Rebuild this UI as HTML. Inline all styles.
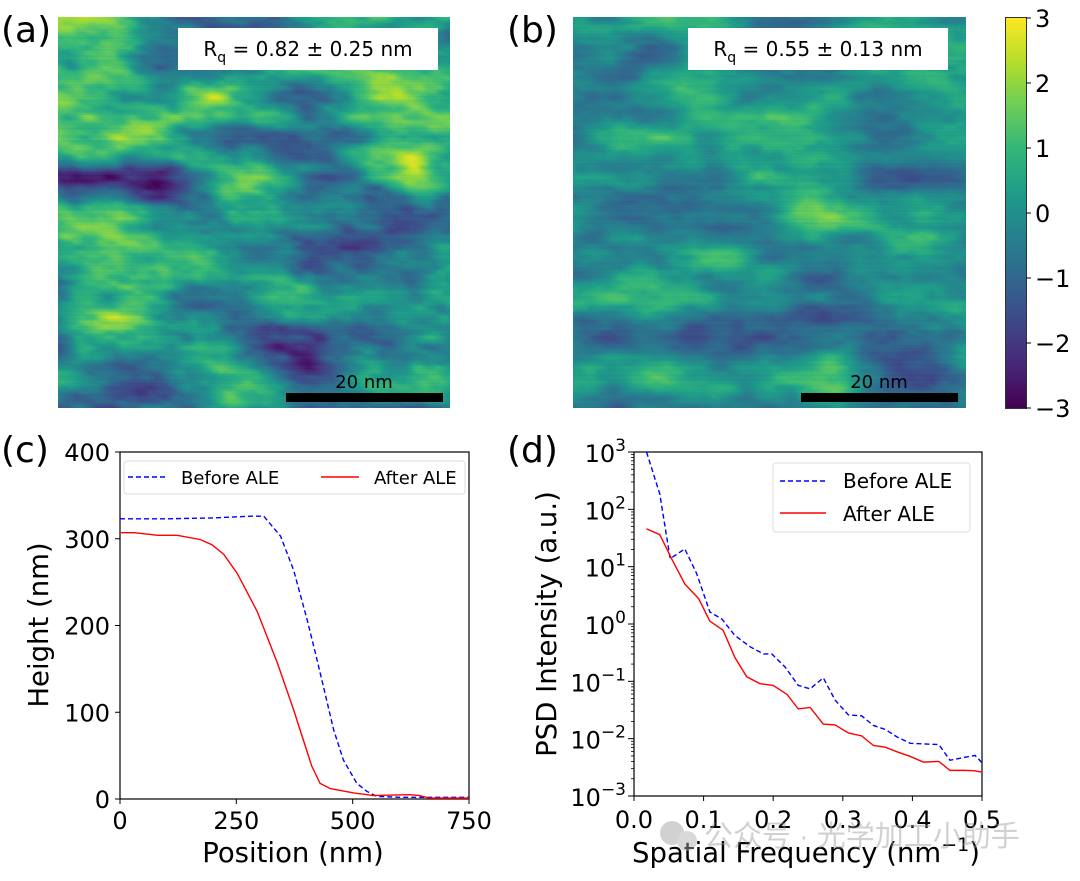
<!DOCTYPE html>
<html><head><meta charset="utf-8">
<style>
body{margin:0;background:#fff;width:1080px;height:881px;overflow:hidden;position:relative;font-family:"DejaVu Sans","Liberation Sans",sans-serif;}
.abs{position:absolute}
canvas{position:absolute}
</style></head>
<body>
<div class="abs" style="left:1px;top:10px;font-size:36px;">(a)</div>
<div class="abs" style="left:507px;top:10px;font-size:36px;">(b)</div>
<canvas id="afmA" width="392" height="391" style="left:58px;top:17px"></canvas>
<canvas id="afmB" width="393" height="391" style="left:573px;top:17px"></canvas>
<canvas id="cbar" width="20" height="390" style="left:1006px;top:18px;outline:1px solid #333"></canvas>
<svg class="abs" style="left:0;top:0" width="1080" height="881" id="svg">
 <g><rect x="178" y="28" width="260" height="42" fill="#fff"/>
 <text x="308" y="56" font-size="20" text-anchor="middle" font-family="DejaVu Sans, sans-serif">R<tspan font-size="14" dy="6">q</tspan><tspan dy="-6"> = 0.82 ± 0.25 nm</tspan></text></g>
 <g><rect x="688" y="28" width="260" height="42" fill="#fff"/>
 <text x="818" y="56" font-size="20" text-anchor="middle" font-family="DejaVu Sans, sans-serif">R<tspan font-size="14" dy="6">q</tspan><tspan dy="-6"> = 0.55 ± 0.13 nm</tspan></text></g>
 <g><rect x="286" y="393" width="157" height="9" fill="#000"/><text x="364" y="388" font-size="18" text-anchor="middle">20 nm</text></g>
 <g><rect x="801" y="393" width="157" height="9" fill="#000"/><text x="879" y="388" font-size="18" text-anchor="middle">20 nm</text></g>
 <g id="cbticks"></g>
 <g id="chartC"></g>
 <g id="chartD"></g>
 <g opacity="0.45">
  <circle cx="672" cy="833" r="12" fill="#999"/><circle cx="687" cy="841" r="10" fill="#aaa"/>
  <text x="704" y="846" font-size="29" fill="#999" font-family="Liberation Sans, Noto Sans CJK SC, sans-serif">公众号 · 光学加工小助手</text>
 </g>
</svg>
<script>
// ---------- chart data ----------
const posBefore=[0,100,200,280,309,345,373,402,420,437,459,480,509,530,552,600,750];
const hBefore=[323,323,324,326,326,303,264,207,168,130,80,45,18,9,3,2,2];
const posAfter=[2,31,81,123,173,198,223,252,295,338,373,394,412,430,452,502,545,623,644,666,750];
const hAfter=[307,307,304,304,299,293,282,260,216,157,103,68,38,18,12,7,4,5,4,1,1];
const cXTicks=[0,250,500,750];
const cYTicks=[0,100,200,300,400];
const freqBefore=[0.018,0.037,0.052,0.073,0.09,0.109,0.126,0.145,0.167,0.186,0.198,0.217,0.236,0.253,0.272,0.289,0.308,0.327,0.344,0.361,0.378,0.397,0.416,0.438,0.454,0.474,0.49,0.5];
const psdBefore=[1000,186,13.8,20.4,7.6,1.62,1.23,0.63,0.40,0.30,0.30,0.178,0.085,0.074,0.115,0.047,0.026,0.025,0.017,0.0145,0.0107,0.0083,0.0081,0.0079,0.0042,0.0047,0.0051,0.0038];
const freqAfter=[0.018,0.037,0.054,0.073,0.093,0.109,0.128,0.145,0.162,0.181,0.2,0.22,0.236,0.253,0.272,0.289,0.308,0.327,0.344,0.361,0.378,0.397,0.416,0.438,0.454,0.474,0.49,0.5];
const psdAfter=[45.7,36.3,13.8,5.0,2.75,1.12,0.78,0.26,0.12,0.091,0.085,0.059,0.033,0.035,0.018,0.0174,0.0126,0.0112,0.0076,0.0071,0.0059,0.0049,0.0039,0.0040,0.0028,0.0028,0.00275,0.0026];
const dXTicks=[0,0.1,0.2,0.3,0.4,0.5];
const dYExps=[-3,-2,-1,0,1,2,3];
const cbTicks=[3,2,1,0,-1,-2,-3];

const NS="http://www.w3.org/2000/svg";
function el(p,t,a,txt){const e=document.createElementNS(NS,t);for(const k in a)e.setAttribute(k,a[k]);if(txt!=null)e.textContent=txt;p.appendChild(e);return e;}

// ---------- chart C ----------
(function(){
 const g=document.getElementById('chartC');
 const L=120,R=469,T=452,B=799;
 const xs=v=>L+(v-0)/750*(R-L), ys=v=>B-v/400*(B-T);
 el(g,'rect',{x:L,y:T,width:R-L,height:B-T,fill:'none',stroke:'#000','stroke-width':1.2});
 cXTicks.forEach(v=>{const t=el(g,'line',{x1:xs(v),x2:xs(v),y1:B,y2:B+5,stroke:'#000'});
  const l=el(g,'text',{x:xs(v),y:B+30,'font-size':24,'text-anchor':'middle'},String(v));});
 cYTicks.forEach(v=>{el(g,'line',{x1:L-5,x2:L,y1:ys(v),y2:ys(v),stroke:'#000'});
  const l=el(g,'text',{x:L-10,y:ys(v)+9,'font-size':24,'text-anchor':'end'},String(v));});
 const xt=el(g,'text',{x:293,y:862,'font-size':27.5,'text-anchor':'middle'},'Position (nm)');
 const yt=el(g,'text',{x:0,y:0,'font-size':27.5,'text-anchor':'middle',transform:'translate(48,625) rotate(-90)'},'Height (nm)');
 const lb=el(g,'text',{x:1,y:462,'font-size':36},'(c)');
 const pb=el(g,'polyline',{points:posBefore.map((p,i)=>xs(p)+','+ys(hBefore[i])).join(' '),fill:'none',stroke:'#0000ff','stroke-width':1.4,'stroke-dasharray':'5,3'});
 
 const pa=el(g,'polyline',{points:posAfter.map((p,i)=>xs(p)+','+ys(hAfter[i])).join(' '),fill:'none',stroke:'#ff0000','stroke-width':1.4});
 
 const lg=el(g,'g',{});
 el(lg,'rect',{x:124,y:461,width:341,height:33,rx:3,fill:'#fff',stroke:'#ddd'});
 el(lg,'line',{x1:128,x2:166,y1:477,y2:477,stroke:'#0000ff','stroke-width':1.4,'stroke-dasharray':'5,3'});
 el(lg,'text',{x:181,y:484,'font-size':18},'Before ALE');
 el(lg,'line',{x1:321,x2:359,y1:477,y2:477,stroke:'#ff0000','stroke-width':1.4});
 el(lg,'text',{x:374,y:484,'font-size':18},'After ALE');
})();

// ---------- chart D ----------
(function(){
 const g=document.getElementById('chartD');
 const L=634,R=982,T=452,B=796;
 const xs=v=>L+v/0.5*(R-L), ys=v=>B-(Math.log10(v)+3)/6*(B-T);
 el(g,'rect',{x:L,y:T,width:R-L,height:B-T,fill:'none',stroke:'#000','stroke-width':1.2});
 dXTicks.forEach(v=>{el(g,'line',{x1:xs(v),x2:xs(v),y1:B,y2:B+5,stroke:'#000'});
  const l=el(g,'text',{x:xs(v),y:B+32,'font-size':24,'text-anchor':'middle'},v.toFixed(1));});
 dYExps.forEach(e=>{const y=ys(Math.pow(10,e));el(g,'line',{x1:L-6,x2:L,y1:y,y2:y,stroke:'#000'});
  if(e<3)for(let m=2;m<10;m++){const ym=ys(m*Math.pow(10,e));el(g,'line',{x1:L-3,x2:L,y1:ym,y2:ym,stroke:'#000','stroke-width':0.8});}
  const l=el(g,'text',{x:L-8,y:y+10,'font-size':24,'text-anchor':'end'});
  
  el(l,'tspan',{},'10');el(l,'tspan',{dy:-11,'font-size':17},e<0?'−'+(-e):String(e));});
 const xt=el(g,'text',{x:806,y:862,'font-size':27.5,'text-anchor':'middle'});
 
 el(xt,'tspan',{},'Spatial Frequency (nm');el(xt,'tspan',{dy:-11,'font-size':19},'−1');el(xt,'tspan',{dy:11},')');
 const yt=el(g,'text',{x:0,y:0,'font-size':27.5,'text-anchor':'middle',transform:'translate(556,624) rotate(-90)'},'PSD Intensity (a.u.)');
 const lb=el(g,'text',{x:507,y:462,'font-size':36},'(d)');
 const pb=el(g,'polyline',{points:freqBefore.map((f,i)=>xs(f)+','+Math.max(T,ys(psdBefore[i]))).join(' '),fill:'none',stroke:'#0000ff','stroke-width':1.4,'stroke-dasharray':'5,3'});
 
 const pa=el(g,'polyline',{points:freqAfter.map((f,i)=>xs(f)+','+ys(psdAfter[i])).join(' '),fill:'none',stroke:'#ff0000','stroke-width':1.4});
 
 const lg=el(g,'g',{});
 el(lg,'rect',{x:773,y:463,width:197,height:69,rx:3,fill:'#fff',stroke:'#ddd'});
 el(lg,'line',{x1:780,x2:826,y1:481,y2:481,stroke:'#0000ff','stroke-width':1.4,'stroke-dasharray':'5,3'});
 el(lg,'text',{x:843,y:488,'font-size':20},'Before ALE');
 el(lg,'line',{x1:780,x2:826,y1:513,y2:513,stroke:'#ff0000','stroke-width':1.4});
 el(lg,'text',{x:843,y:521,'font-size':20},'After ALE');
})();

// ---------- colorbar ticks ----------
(function(){
 const g=document.getElementById('cbticks');
 cbTicks.forEach(v=>{const y=18+(3-v)/6*390;el(g,'line',{x1:1026,x2:1031,y1:y,y2:y,stroke:'#000'});
  const l=el(g,'text',{x:1035,y:y+9,'font-size':24},v<0?'−'+(-v):String(v));});
})();

// ---------- viridis & textures ----------
const VS=[[68,1,84],[72,40,120],[62,74,137],[49,104,142],[38,130,142],[31,158,137],[53,183,121],[110,206,88],[181,222,43],[253,231,37]];
function vir(t){t=Math.max(0,Math.min(1,t))*(VS.length-1);const i=Math.min(VS.length-2,Math.floor(t)),f=t-i;return VS[i].map((c,k)=>c+(VS[i+1][k]-c)*f);}
(function(){const c=document.getElementById('cbar').getContext('2d');for(let y=0;y<390;y++){const v=vir(1-y/389);c.fillStyle=`rgb(${v[0]|0},${v[1]|0},${v[2]|0})`;c.fillRect(0,y,20,1);}})();
function rng(s){return function(){s=(s*1664525+1013904223)>>>0;return s/4294967296;};}
function makeField(seed,W,H,amp,shear){
 const r=rng(seed);const octs=[[40,1.0],[20,0.55],[10,0.3],[5,0.15]];
 const grids=octs.map(([s])=>{const gw=Math.ceil(W/s)+30,gh=Math.ceil(H/s)+3;const a=[];for(let i=0;i<gw*gh;i++)a.push(r()*2-1);return{gw,gh,a};});
 const rows=[];for(let y=0;y<H;y++)rows.push((r()*2-1)*0.12);
 const out=new Float32Array(W*H);
 for(let y=0;y<H;y++)for(let x=0;x<W;x++){let v=0;
  octs.forEach(([s,w],o)=>{const G=grids[o];const xx=(x+shear*(H-y))/(s*2.2)+ 2,yy=y/s;const ix=Math.floor(xx),iy=Math.floor(yy),fx=xx-ix,fy=yy-iy;
   const sx=fx*fx*(3-2*fx),sy=fy*fy*(3-2*fy);const g=(i,j)=>G.a[(Math.min(iy+j,G.gh-1))*G.gw+Math.min(ix+i,G.gw-1)];
   v+=w*((g(0,0)*(1-sx)+g(1,0)*sx)*(1-sy)+(g(0,1)*(1-sx)+g(1,1)*sx)*sy);});
  out[y*W+x]=v*amp+rows[y]+(r()-0.5)*0.15;}
 return out;}
function paint(id,seed,amp,shear,off){const cv=document.getElementById(id),W=cv.width,H=cv.height,c=cv.getContext('2d');const f=makeField(seed,W,H,amp,shear);const im=c.createImageData(W,H);
 for(let i=0;i<W*H;i++){const v=vir((f[i]+off+3)/6);im.data[i*4]=v[0];im.data[i*4+1]=v[1];im.data[i*4+2]=v[2];im.data[i*4+3]=255;}c.putImageData(im,0,0);}
paint('afmA',12345,1.9,0.35,0.0);
paint('afmB',98765,1.3,0.15,-0.2);
</script>
</body></html>
